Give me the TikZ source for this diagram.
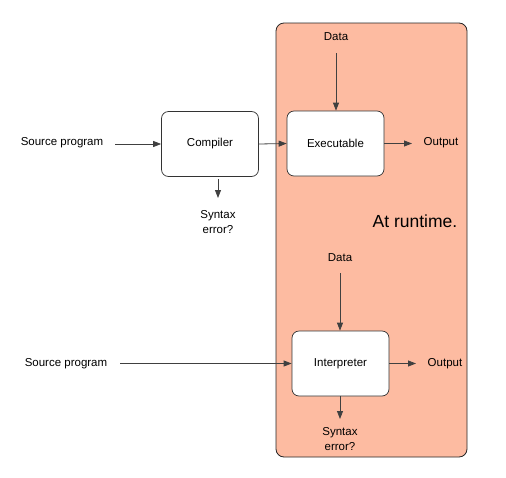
\documentclass[tikz,border=0pt]{standalone}
\usepackage{fontspec}
\setmainfont{Liberation Sans}
\usetikzlibrary{arrows.meta}
\definecolor{runbg}{RGB}{253,187,161}
\begin{document}
\begin{tikzpicture}[x=1pt,y=-1pt,
  box/.style={draw=black!80,fill=white,rounded corners=7pt,minimum width=97pt,minimum height=65pt,font=\fontsize{11.5}{13.5}\selectfont,line width=0.7pt},
  lbl/.style={font=\fontsize{11.5}{14.5}\selectfont,align=center,inner sep=1pt},
  arr/.style={-{Triangle[length=8pt,width=6pt]},line width=0.8pt,draw=black!75}]
\useasboundingbox (0,0) rectangle (506,477);
\node[draw=black!85,fill=runbg,rounded corners=8pt,line width=0.8pt,minimum width=191pt,minimum height=434pt,inner sep=0pt] (rt) at (371.5,240) {};
\node[font=\fontsize{17.5}{21}\selectfont] (atrt) at (415,221) {At runtime.};
% top
\node[lbl] (src1) at (62,143) {Source program};
\node[box] (comp) at (210,144) {Compiler};
\node[box] (exe) at (335.5,143.5) {Executable};
\node[lbl] (syn1) at (218,222) {Syntax\\error?};
\node[lbl] (data1) at (336,37) {Data};
\node[lbl] (out1) at (441,143) {Output};
\coordinate (s1) at (115,144);
\coordinate (cs) at (218,179);
\coordinate (ce) at (218,198);
\draw[arr] (s1) -- (comp.west);
\draw[arr] (comp.east) -- (exe.west);
\draw[arr] (cs) -- (ce);
\draw[arr] (data1.south |- 0,53) -- (exe.north -| data1.south);
\draw[arr] (exe.east) -- (412,143.5) coordinate (o1);
% bottom
\node[lbl] (src2) at (66,364) {Source program};
\node[box] (interp) at (340.5,363.5) {Interpreter};
\node[lbl] (data2) at (340,258) {Data};
\node[lbl] (out2) at (445,364) {Output};
\node[lbl] (syn2) at (340,439) {Syntax\\error?};
\coordinate (s2) at (120,363.5);
\draw[arr] (s2) -- (interp.west);
\draw[arr] (data2.south |- 0,273) -- (interp.north -| data2.south);
\draw[arr] (interp.east) -- (416,363.5) coordinate (o2);
\draw[arr] (interp.south -| syn2.north) -- (340,419) coordinate (e2);
\end{tikzpicture}
\end{document}
